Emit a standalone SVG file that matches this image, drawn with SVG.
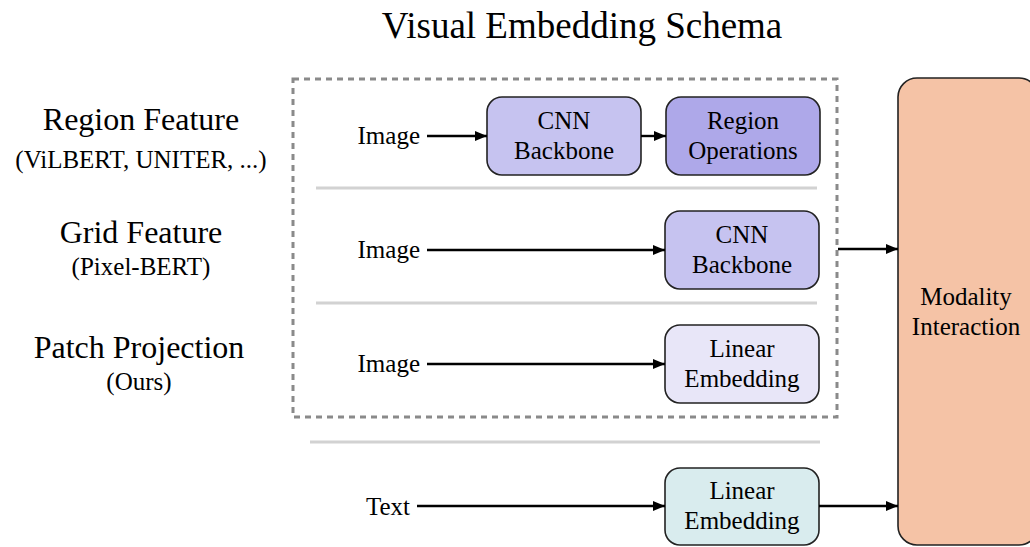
<svg xmlns="http://www.w3.org/2000/svg" width="1030" height="547" viewBox="0 0 1030 547">
  <style>
    text { font-family: "Liberation Serif", "Times New Roman", serif; fill: #000; }
    .title { font-size: 37px; text-anchor: middle; }
    .head { font-size: 32px; text-anchor: middle; }
    .sub { font-size: 25px; text-anchor: middle; }
    .lbl { font-size: 25px; }
    .box { stroke: #222; stroke-width: 1.6; }
    .sep { stroke: #d2d2d2; stroke-width: 3; }
    .edge { stroke: #000; stroke-width: 2.4; fill: none; marker-end: url(#arrow); }
  </style>
  <defs>
    <marker id="arrow" markerWidth="13" markerHeight="12" refX="12" refY="6" orient="auto" markerUnits="userSpaceOnUse">
      <path d="M0,1 L12,6 L0,11 Z" fill="#000"/>
    </marker>
  </defs>

  <rect width="1030" height="547" fill="#fff"/>

  <text class="title" x="582" y="38">Visual Embedding Schema</text>

  <!-- row headings -->
  <g id="headings">
    <text class="head" x="141" y="130">Region Feature</text>
    <text class="sub" x="141" y="168">(ViLBERT, UNITER, ...)</text>
    <text class="head" x="141" y="243">Grid Feature</text>
    <text class="sub" x="141" y="275">(Pixel-BERT)</text>
    <text class="head" x="139" y="358">Patch Projection</text>
    <text class="sub" x="139" y="390">(Ours)</text>
  </g>

  <!-- visual branch frame and separators -->
  <g id="frame">
    <rect x="293" y="79" width="544" height="338" fill="none" stroke="#8a8a8a" stroke-width="3" stroke-dasharray="6,5"/>
    <line class="sep" x1="316" y1="188" x2="817" y2="188"/>
    <line class="sep" x1="316" y1="303" x2="817" y2="303"/>
    <line class="sep" x1="310" y1="442" x2="820" y2="442"/>
  </g>

  <!-- input labels -->
  <g id="inputs">
    <text class="lbl" x="420" y="144" text-anchor="end">Image</text>
    <text class="lbl" x="420" y="258" text-anchor="end">Image</text>
    <text class="lbl" x="420" y="372" text-anchor="end">Image</text>
    <text class="lbl" x="410" y="515" text-anchor="end">Text</text>
  </g>

  <g id="region-cnn">
    <rect class="box" x="487" y="97" width="154" height="78" rx="15" fill="#c6c3f0"/>
    <text class="sub" x="564" y="129">CNN</text>
    <text class="sub" x="564" y="159">Backbone</text>
  </g>
  <g id="region-ops">
    <rect class="box" x="666" y="97" width="154" height="78" rx="15" fill="#aea8e9"/>
    <text class="sub" x="743" y="129">Region</text>
    <text class="sub" x="743" y="159">Operations</text>
  </g>
  <g id="grid-cnn">
    <rect class="box" x="665" y="211" width="154" height="78" rx="15" fill="#c6c3f0"/>
    <text class="sub" x="742" y="243">CNN</text>
    <text class="sub" x="742" y="273">Backbone</text>
  </g>
  <g id="patch-linear">
    <rect class="box" x="665" y="325" width="154" height="78" rx="15" fill="#e8e6f8"/>
    <text class="sub" x="742" y="357">Linear</text>
    <text class="sub" x="742" y="387">Embedding</text>
  </g>
  <g id="text-linear">
    <rect class="box" x="665" y="468" width="154" height="77" rx="15" fill="#d9ecee"/>
    <text class="sub" x="742" y="499">Linear</text>
    <text class="sub" x="742" y="529">Embedding</text>
  </g>
  <g id="modality">
    <rect class="box" x="898" y="78" width="140" height="467" rx="19" fill="#f5c3a6"/>
    <text class="sub" x="966" y="305">Modality</text>
    <text class="sub" x="966" y="335">Interaction</text>
  </g>

  <g id="connectors">
    <line class="edge" x1="427" y1="136" x2="487" y2="136"/>
    <line class="edge" x1="641" y1="136" x2="666" y2="136"/>
    <line class="edge" x1="427" y1="250" x2="665" y2="250"/>
    <line class="edge" x1="427" y1="364" x2="665" y2="364"/>
    <line class="edge" x1="417" y1="506" x2="665" y2="506"/>
    <line class="edge" x1="838" y1="249" x2="898" y2="249"/>
    <line class="edge" x1="819" y1="506" x2="898" y2="506"/>
  </g>
</svg>
